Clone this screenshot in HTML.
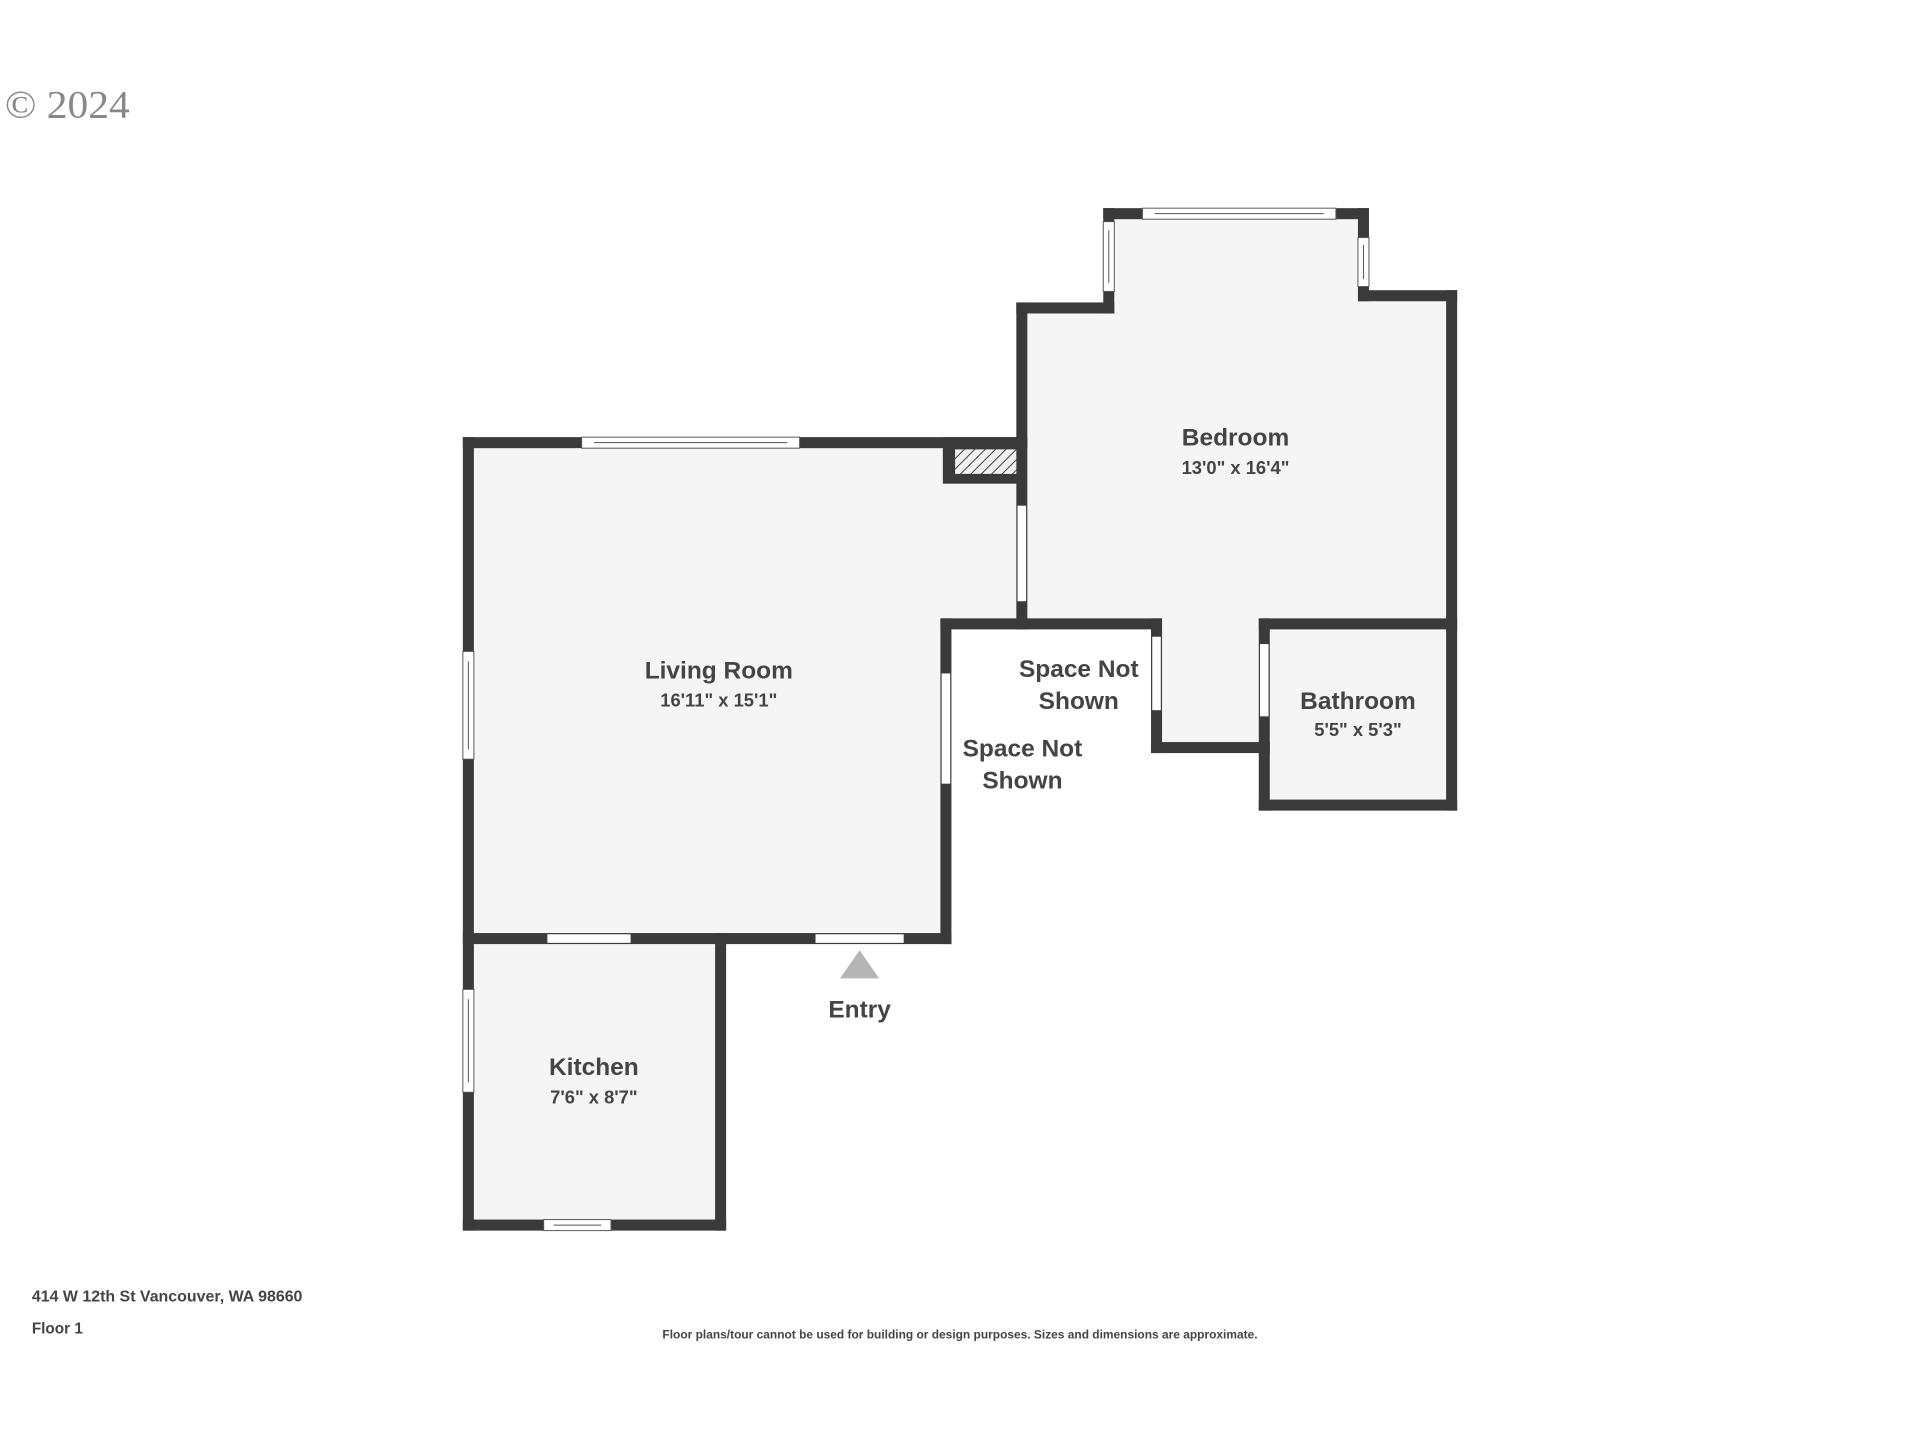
<!DOCTYPE html>
<html><head><style>
html,body{margin:0;padding:0;background:#fff;width:1920px;height:1440px;overflow:hidden}
svg{display:block}
text{font-family:"Liberation Sans",sans-serif;font-weight:bold;fill:#444}
</style></head><body>
<svg width="1920" height="1440" viewBox="0 0 1568 1176" xmlns="http://www.w3.org/2000/svg">
<defs>
<pattern id="h" width="6" height="6" patternUnits="userSpaceOnUse" patternTransform="rotate(45)">
<rect width="6" height="6" fill="#f0f0f0"/><line x1="0" y1="0" x2="0" y2="6" stroke="#333" stroke-width="1.5"/>
</pattern>
</defs>
<text x="4" y="96" style="font-family:'Liberation Serif',serif;font-weight:normal;fill:#888;font-size:32px" textLength="102" lengthAdjust="spacingAndGlyphs">© 2024</text>
<g fill="#f5f5f5">
<rect x="383" y="362" width="452" height="405"/>
<rect x="383" y="767" width="206" height="234"/>
<polygon points="835,251 905,251 905,175 1113,175 1113,242 1185,242 1185,510 1033,510 1033,611 945,611 945,510 835,510"/>
<rect x="1033" y="510" width="152" height="148"/>
</g>
<rect x="773" y="510" width="172" height="260" fill="#fff"/>
<g fill="#3a3a3a">
<rect x="378" y="357" width="461" height="9"/>
<rect x="378" y="357" width="9" height="648"/>
<rect x="768" y="505" width="9" height="266"/>
<rect x="378" y="762" width="399" height="9"/>
<rect x="770" y="357" width="68" height="38"/>
<rect x="378" y="996" width="215" height="9"/>
<rect x="584" y="762" width="9" height="243"/>
<rect x="830" y="247" width="9" height="267"/>
<rect x="830" y="247" width="80" height="9"/>
<rect x="901" y="170" width="9" height="86"/>
<rect x="901" y="170" width="217" height="9"/>
<rect x="1109" y="170" width="9" height="76"/>
<rect x="1109" y="237" width="81" height="9"/>
<rect x="1181" y="237" width="9" height="425"/>
<rect x="768" y="505" width="181" height="9"/>
<rect x="940" y="505" width="9" height="110"/>
<rect x="940" y="606" width="97" height="9"/>
<rect x="1028" y="505" width="9" height="157"/>
<rect x="1028" y="505" width="162" height="9"/>
<rect x="1028" y="653" width="162" height="9"/>
</g>
<rect x="780" y="367" width="50" height="20" fill="url(#h)"/>
<g fill="#fff" stroke="#555" stroke-width="0.8">
<rect x="475" y="357" width="178" height="9"/>
<rect x="378" y="532" width="9" height="88"/>
<rect x="378" y="808" width="9" height="84"/>
<rect x="444" y="996" width="55" height="9"/>
<rect x="933" y="170" width="158" height="9"/>
<rect x="901" y="181" width="9" height="57"/>
<rect x="1109" y="194" width="9" height="40"/>
</g>
<g stroke="#555" stroke-width="0.8">
<line x1="485" y1="361.5" x2="643" y2="361.5"/>
<line x1="943" y1="174.5" x2="1081" y2="174.5"/>
<line x1="382.5" y1="540" x2="382.5" y2="612"/>
<line x1="382.5" y1="816" x2="382.5" y2="884"/>
<line x1="905.5" y1="188" x2="905.5" y2="231"/>
<line x1="1113.5" y1="200" x2="1113.5" y2="228"/>
<line x1="452" y1="1000.5" x2="491" y2="1000.5"/>
</g>
<g fill="#fff">
<rect x="831" y="413" width="7" height="78"/>
<rect x="769" y="550" width="7" height="90"/>
<rect x="447" y="763" width="68" height="7"/>
<rect x="666" y="763" width="72" height="7"/>
<rect x="941" y="520" width="7" height="60"/>
<rect x="1029" y="526" width="7" height="59"/>
</g>
<polygon points="702,776 686,799 718,799" fill="#b5b5b5"/>
<g text-anchor="middle">
<text x="1009" y="364" font-size="20">Bedroom</text>
<text x="1009" y="387" font-size="15">13'0" x 16'4"</text>
<text x="587" y="554" font-size="20">Living Room</text>
<text x="587" y="577" font-size="15">16'11" x 15'1"</text>
<text x="881" y="553" font-size="20">Space Not</text>
<text x="881" y="579" font-size="20">Shown</text>
<text x="835" y="618" font-size="20">Space Not</text>
<text x="835" y="644" font-size="20">Shown</text>
<text x="1109" y="579" font-size="20">Bathroom</text>
<text x="1109" y="601" font-size="15">5'5" x 5'3"</text>
<text x="702" y="831" font-size="20">Entry</text>
<text x="485" y="878" font-size="20">Kitchen</text>
<text x="485" y="901" font-size="15">7'6" x 8'7"</text>
<text x="784" y="1093" font-size="9.5" textLength="486" lengthAdjust="spacingAndGlyphs">Floor plans/tour cannot be used for building or design purposes. Sizes and dimensions are approximate.</text>
</g>
<text x="26" y="1063" font-size="12.5" textLength="221" lengthAdjust="spacingAndGlyphs">414 W 12th St Vancouver, WA 98660</text>
<text x="26" y="1089" font-size="12.5">Floor 1</text>
</svg>
</body></html>
